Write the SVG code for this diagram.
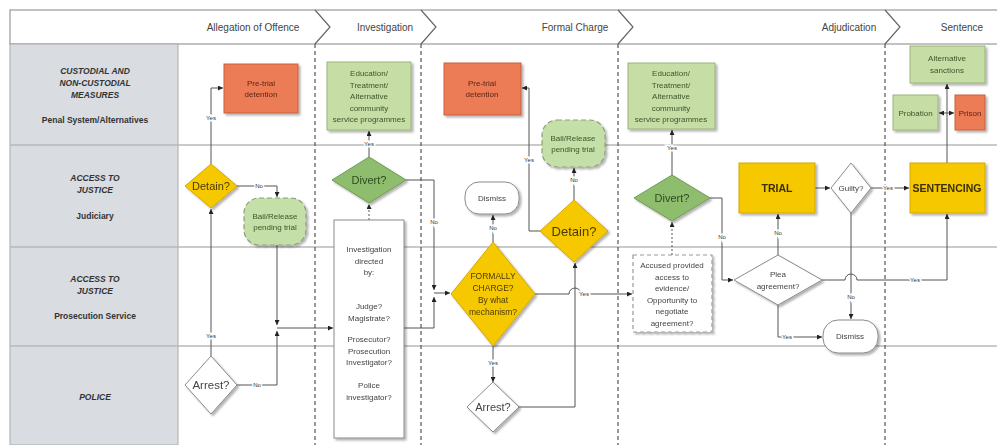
<svg xmlns="http://www.w3.org/2000/svg" width="997" height="445" viewBox="0 0 997 445">
<style>
text{font-family:"Liberation Sans",Arial,sans-serif;text-anchor:middle}
.hd{font-size:10px;fill:#444}
.lane{font-size:8.5px;font-weight:bold;font-style:italic;fill:#333}
.lsub{font-size:8.5px;font-weight:bold;fill:#333}
.t{font-size:8px;fill:#444}
.to{font-size:8px;fill:#5c2414}
.tg{font-size:8px;fill:#3b5528}
.lbl{font-size:6px;fill:#333;stroke:#fff;stroke-width:3;paint-order:stroke}
.row{stroke:#b8b8b8;stroke-width:1.6;fill:none}
.ph{stroke:#555;stroke-width:1.2;stroke-dasharray:4 3;fill:none}
.c{stroke:#555;stroke-width:1;fill:none;marker-end:url(#a)}
.orange{fill:#ec7b56;stroke:#c9603f;stroke-width:1}
.green{fill:#c6dda6;stroke:#98b677;stroke-width:1}
.dgreen{fill:#8fbd6e;stroke:#6f9a55;stroke-width:1}
.yellow{fill:#f6c800;stroke:#d4a800;stroke-width:1}
.white{fill:#fff;stroke:#8a8a8a;stroke-width:1}
.cloud{fill:#c4dfa8;stroke:#8b9f7a;stroke-width:1.2;stroke-dasharray:5 3}
</style>
<defs>
<marker id="a" viewBox="0 0 6 6" refX="6" refY="3" markerWidth="5" markerHeight="5" orient="auto-start-reverse"><path d="M0,0 L6,3 L0,6 z" fill="#222"/></marker>
<filter id="sh" x="-10%" y="-10%" width="130%" height="130%"><feDropShadow dx="2" dy="2" stdDeviation="1.2" flood-color="#000" flood-opacity="0.3"/></filter>
</defs>
<rect width="997" height="445" fill="#fff"/>
<g id="header">
<rect x="10" y="10" width="990" height="34" fill="#fff" stroke="#999" stroke-width="1.2"/>
<polyline points="315,10 330,27 315,44" fill="none" stroke="#666" stroke-width="1.2"/>
<polyline points="421,10 436,27 421,44" fill="none" stroke="#666" stroke-width="1.2"/>
<polyline points="618,10 633,27 618,44" fill="none" stroke="#666" stroke-width="1.2"/>
<polyline points="885,10 900,27 885,44" fill="none" stroke="#666" stroke-width="1.2"/>
<text class="hd" x="253" y="31">Allegation of Offence</text>
<text class="hd" x="385" y="31">Investigation</text>
<text class="hd" x="575" y="31">Formal Charge</text>
<text class="hd" x="849" y="31">Adjudication</text>
<text class="hd" x="962" y="31">Sentence</text>
</g>
<g id="lanes">
<rect x="10" y="44" width="168" height="401" fill="#d9dce1" stroke="#aaa" stroke-width="1"/>
<line class="row" x1="10" y1="145" x2="997" y2="145"/>
<line class="row" x1="10" y1="247" x2="997" y2="247"/>
<line class="row" x1="10" y1="346" x2="997" y2="346"/>
<text class="lane" x="95" y="74">CUSTODIAL AND</text>
<text class="lane" x="95" y="86">NON-CUSTODIAL</text>
<text class="lane" x="95" y="98">MEASURES</text>
<text class="lsub" x="95" y="123">Penal System/Alternatives</text>
<text class="lane" x="95" y="181">ACCESS TO</text>
<text class="lane" x="95" y="193">JUSTICE</text>
<text class="lsub" x="95" y="219">Judiciary</text>
<text class="lane" x="95" y="282">ACCESS TO</text>
<text class="lane" x="95" y="294">JUSTICE</text>
<text class="lsub" x="95" y="319">Prosecution Service</text>
<text class="lane" x="95" y="400">POLICE</text>
<line class="ph" x1="315" y1="44" x2="315" y2="445"/>
<line class="ph" x1="421" y1="44" x2="421" y2="445"/>
<line class="ph" x1="618" y1="44" x2="618" y2="445"/>
<line class="ph" x1="885" y1="44" x2="885" y2="445"/>
</g>
<g id="connectors">
<path class="c" d="M211,356 V209"/>
<path class="c" d="M211,164 V88 H223"/>
<path class="c" d="M237,186 H277 V197"/>
<path class="c" d="M277,245 V325"/>
<path class="c" d="M237,385 H277 V331"/>
<path class="c" d="M277,328 H333"/>
<path class="c" d="M369,157 V131"/>
<path class="c" d="M369,220 V204" stroke-dasharray="2 2"/>
<path class="c" d="M406,180 H434 V290"/>
<path class="c" d="M404,328 H434 V297"/>
<path class="c" d="M434,293 H450"/>
<path class="c" d="M493,242 V215"/>
<path class="c" d="M493,346 V382"/>
<path class="c" d="M519,407 H575 V263"/>
<path class="c" d="M574,200 V168"/>
<path class="c" d="M540,231 H529 V88 H522"/>
<path class="c" d="M535,294 H569 a6,6 0 0 1 12,0 H632"/>
<path class="c" d="M672,175 V130"/>
<path class="c" d="M672,255 V222" stroke-dasharray="2 2"/>
<path class="c" d="M710,198 H722 V280 H733"/>
<path class="c" d="M778,255 V214"/>
<path class="c" d="M815,188 H830"/>
<path class="c" d="M871,188 H909"/>
<path class="c" d="M851,213 V319"/>
<path class="c" d="M822,280 H845 a6,6 0 0 1 12,0 H947 V214"/>
<path class="c" d="M778,305 V337 H822"/>
<path class="c" d="M947,163 V84"/>
<path class="c" d="M939,113 H954" marker-start="url(#a)"/>
<text class="lbl" x="211" y="338">Yes</text>
<text class="lbl" x="211" y="120">Yes</text>
<text class="lbl" x="259" y="188">No</text>
<text class="lbl" x="257" y="387">No</text>
<text class="lbl" x="369" y="146">Yes</text>
<text class="lbl" x="434" y="224">No</text>
<text class="lbl" x="493" y="230">No</text>
<text class="lbl" x="493" y="365">Yes</text>
<text class="lbl" x="574" y="182">No</text>
<text class="lbl" x="529" y="162">Yes</text>
<text class="lbl" x="584" y="296">Yes</text>
<text class="lbl" x="672" y="150">Yes</text>
<text class="lbl" x="722" y="239">No</text>
<text class="lbl" x="778" y="235">No</text>
<text class="lbl" x="888" y="190">Yes</text>
<text class="lbl" x="851" y="299">No</text>
<text class="lbl" x="915" y="282">Yes</text>
<text class="lbl" x="787" y="339">Yes</text>
</g>
<g id="pretrial1" filter="url(#sh)"><rect class="orange" x="224" y="64" width="74" height="49"/><text class="to" x="261" y="86">Pre-trial</text><text class="to" x="261" y="97">detention</text></g>
<g id="detain1" filter="url(#sh)"><polygon class="yellow" points="211,164 237,186 211,208 185,186"/><text x="211" y="190" font-size="11" fill="#4a3c00">Detain?</text></g>
<g id="bail1" filter="url(#sh)"><rect class="cloud" x="244" y="198" width="62" height="47" rx="15"/><text class="tg" x="275" y="219">Bail/Release</text><text class="tg" x="275" y="230">pending trial</text></g>
<g id="arrest1" filter="url(#sh)"><polygon class="white" points="211,356 237,385 211,414 185,385"/><text x="211" y="389" font-size="11.5" fill="#444">Arrest?</text></g>
<g id="edu1" filter="url(#sh)"><rect class="green" x="327" y="62" width="84" height="68"/><text class="tg" x="369" y="76">Education/</text><text class="tg" x="369" y="87.5">Treatment/</text><text class="tg" x="369" y="99">Alternative</text><text class="tg" x="369" y="110.5">community</text><text class="tg" x="369" y="122">service programmes</text></g>
<g id="divert1" filter="url(#sh)"><polygon class="dgreen" points="369,157 406,180 369,203 332,180"/><text x="369" y="184" font-size="11" fill="#2d4a1e">Divert?</text></g>
<g id="investigation" filter="url(#sh)"><rect class="white" x="334" y="220" width="70" height="218"/><text class="t" x="369" y="252">Investigation</text><text class="t" x="369" y="263.5">directed</text><text class="t" x="369" y="275">by:</text><text class="t" x="369" y="309">Judge?</text><text class="t" x="369" y="320.5">Magistrate?</text><text class="t" x="369" y="342">Prosecutor?</text><text class="t" x="369" y="353.5">Prosecution</text><text class="t" x="369" y="365">Investigator?</text><text class="t" x="369" y="388">Police</text><text class="t" x="369" y="399.5">investigator?</text></g>
<g id="pretrial2" filter="url(#sh)"><rect class="orange" x="444" y="63" width="77" height="52"/><text class="to" x="482" y="86">Pre-trial</text><text class="to" x="482" y="97">detention</text></g>
<g id="bail2" filter="url(#sh)"><rect class="cloud" x="542" y="120" width="63" height="47" rx="15"/><text class="tg" x="573" y="141">Bail/Release</text><text class="tg" x="573" y="152">pending trial</text></g>
<g id="dismiss1" filter="url(#sh)"><rect class="white" x="465" y="182" width="54" height="32" rx="14"/><text class="t" x="492" y="201">Dismiss</text></g>
<g id="detain2" filter="url(#sh)"><polygon class="yellow" points="574,200 608,231 574,262 540,231"/><text x="574" y="236" font-size="13" fill="#4a3c00">Detain?</text></g>
<g id="formallycharge" filter="url(#sh)"><polygon class="yellow" points="493,242 535,294 493,346 451,294"/><text x="493" y="279" font-size="8.5" fill="#4a3c00">FORMALLY</text><text x="493" y="291" font-size="8.5" fill="#4a3c00">CHARGE?</text><text x="493" y="303" font-size="8.5" fill="#4a3c00">By what</text><text x="493" y="315" font-size="8.5" fill="#4a3c00">mechanism?</text></g>
<g id="arrest2" filter="url(#sh)"><polygon class="white" points="493,382 519,407 493,432 467,407"/><text x="493" y="411" font-size="11" fill="#444">Arrest?</text></g>
<g id="edu2" filter="url(#sh)"><rect class="green" x="628" y="63" width="87" height="66"/><text class="tg" x="671" y="76">Education/</text><text class="tg" x="671" y="87.5">Treatment/</text><text class="tg" x="671" y="99">Alternative</text><text class="tg" x="671" y="110.5">community</text><text class="tg" x="671" y="122">service programmes</text></g>
<g id="divert2" filter="url(#sh)"><polygon class="dgreen" points="672,175 710,198 672,221 634,198"/><text x="672" y="202" font-size="11" fill="#2d4a1e">Divert?</text></g>
<g id="accused" filter="url(#sh)"><rect x="633" y="255" width="79" height="77" fill="#fff" stroke="#999" stroke-width="1.2" stroke-dasharray="4 3"/><text class="t" x="672" y="268">Accused provided</text><text class="t" x="672" y="279.5">access to</text><text class="t" x="672" y="291">evidence/</text><text class="t" x="672" y="302.5">Opportunity to</text><text class="t" x="672" y="314">negotiate</text><text class="t" x="672" y="325.5">agreement?</text></g>
<g id="trial" filter="url(#sh)"><rect class="yellow" x="739" y="163" width="76" height="50"/><text x="777" y="192" font-size="10.5" font-weight="bold" fill="#3a2e00">TRIAL</text></g>
<g id="plea" filter="url(#sh)"><polygon class="white" points="778,255 822,280 778,305 734,280"/><text class="t" x="778" y="277">Plea</text><text class="t" x="778" y="289">agreement?</text></g>
<g id="guilty" filter="url(#sh)"><polygon class="white" points="851,163 871,188 851,213 831,188"/><text class="t" x="851" y="191">Guilty?</text></g>
<g id="dismiss2" filter="url(#sh)"><rect class="white" x="823" y="320" width="55" height="33" rx="15"/><text class="t" x="850" y="339">Dismiss</text></g>
<g id="sentencing" filter="url(#sh)"><rect class="yellow" x="910" y="163" width="75" height="50"/><text x="947" y="192" font-size="10.5" font-weight="bold" fill="#3a2e00">SENTENCING</text></g>
<g id="alternativesanctions" filter="url(#sh)"><rect class="green" x="910" y="46" width="75" height="37"/><text class="tg" x="947" y="61">Alternative</text><text class="tg" x="947" y="73">sanctions</text></g>
<g id="probation" filter="url(#sh)"><rect class="green" x="893" y="95" width="45" height="35"/><text class="tg" x="915.5" y="116">Probation</text></g>
<g id="prison" filter="url(#sh)"><rect class="orange" x="955" y="95" width="30" height="35"/><text class="to" x="970" y="116">Prison</text></g>
</svg>
